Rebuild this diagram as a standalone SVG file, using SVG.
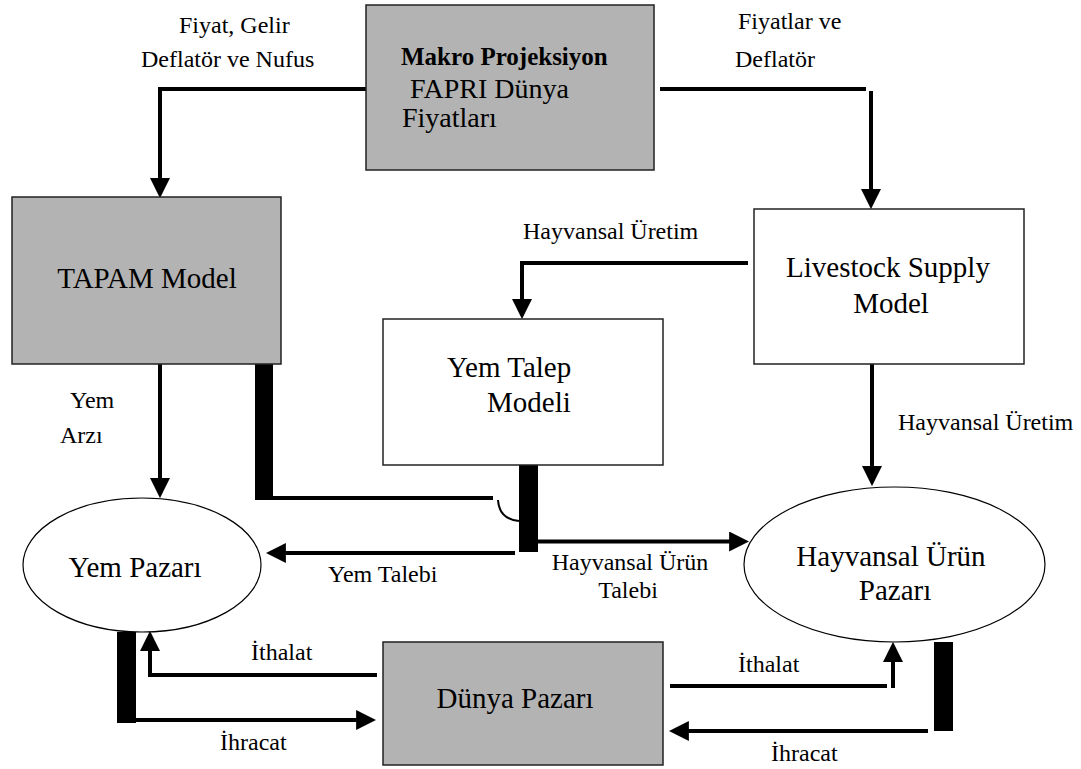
<svg xmlns="http://www.w3.org/2000/svg" width="1081" height="769" viewBox="0 0 1081 769">
<style>
.box{stroke:#222;stroke-width:1.5}
.gray{fill:#b3b3b3}
.white{fill:#fff}
.ell{fill:#fff;stroke:#000;stroke-width:1.2}
.t{font-family:"Liberation Serif","Times New Roman",serif;fill:#000}
.node{font-size:29px}
.lbl{font-size:24px}
.c{text-anchor:middle}
.ln{fill:none;stroke:#000;stroke-width:4;stroke-linejoin:miter}
.arr{fill:none;stroke:#000;stroke-width:4;marker-end:url(#ah)}
.bar{fill:#000}
</style>
<defs>
<marker id="ah" markerUnits="userSpaceOnUse" markerWidth="20" markerHeight="20" viewBox="0 0 18 18" refX="8" refY="9" orient="auto">
<path d="M0,0 L18,9 L0,18 z" fill="#000"/>
</marker>
</defs>
<rect width="1081" height="769" fill="#fff"/>

<g id="connectors">
<path class="arr" d="M375 89 H160 V187"/>
<path class="ln" d="M660 89 H866"/>
<path class="arr" d="M871 91 V198"/>
<path class="arr" d="M748 263 H522 V308"/>
<path class="arr" d="M872 364 V475"/>
<path class="arr" d="M160 364 V487"/>
<rect class="bar" x="255" y="364" width="18" height="136"/>
<path class="ln" d="M255 498 H493"/>
<path d="M498 500 Q499 519 519 521" fill="none" stroke="#000" stroke-width="2"/>
<rect class="bar" x="519" y="464" width="19" height="88"/>
<path class="arr" d="M538 541.5 H738"/>
<path class="arr" d="M515 553 H277"/>
<rect class="bar" x="117" y="632" width="19" height="91"/>
<path class="arr" d="M117 720 H365"/>
<path class="arr" d="M377 675 H150 V642"/>
<path class="ln" d="M670 686 H887"/>
<path class="arr" d="M893 688 V653"/>
<rect class="bar" x="934" y="642" width="19" height="89"/>
<path class="arr" d="M928 731 H680"/>
</g>

<g id="labels">
<text class="t lbl" x="179" y="33">Fiyat, Gelir</text>
<text class="t lbl" x="141" y="67">Deflatör ve Nufus</text>
<text class="t lbl" x="738" y="29">Fiyatlar ve</text>
<text class="t lbl" x="735" y="67">Deflatör</text>
<text class="t lbl" x="523" y="239">Hayvansal Üretim</text>
<text class="t lbl" x="898" y="430">Hayvansal Üretim</text>
<text class="t lbl" x="70" y="408">Yem</text>
<text class="t lbl" x="60" y="443">Arzı</text>
<text class="t lbl" x="328" y="582">Yem Talebi</text>
<text class="t lbl c" x="630" y="570">Hayvansal Ürün</text>
<text class="t lbl c" x="628" y="598">Talebi</text>
<text class="t lbl" x="251" y="660">İthalat</text>
<text class="t lbl" x="220" y="750">İhracat</text>
<text class="t lbl" x="738" y="672">İthalat</text>
<text class="t lbl" x="771" y="761">İhracat</text>
</g>

<g id="makro">
<rect class="box gray" x="366" y="5" width="288" height="165"/>
<text class="t" x="401" y="65" font-size="25" font-weight="bold">Makro Projeksiyon</text>
<text class="t" x="410" y="98" font-size="28">FAPRI Dünya</text>
<text class="t" x="402" y="127" font-size="28">Fiyatları</text>
</g>

<g id="tapam">
<rect class="box gray" x="12" y="197" width="269" height="167"/>
<text class="t node c" x="147" y="288">TAPAM Model</text>
</g>

<g id="livestock">
<rect class="box white" x="754" y="209" width="270" height="155"/>
<text class="t node c" x="888" y="277">Livestock Supply</text>
<text class="t node c" x="891" y="313">Model</text>
</g>

<g id="yemtalep">
<rect class="box white" x="383" y="319" width="280" height="146"/>
<text class="t node" x="447" y="377">Yem Talep</text>
<text class="t node" x="487" y="412">Modeli</text>
</g>

<g id="yempazari">
<ellipse class="ell" cx="142" cy="565" rx="119" ry="67"/>
<text class="t node c" x="135" y="577">Yem Pazarı</text>
</g>

<g id="hayvansalpazar">
<ellipse class="ell" cx="894.5" cy="564.5" rx="150.5" ry="77.5"/>
<text class="t node c" x="891" y="566">Hayvansal Ürün</text>
<text class="t node c" x="895" y="600">Pazarı</text>
</g>

<g id="dunya">
<rect class="box gray" x="383" y="642" width="280" height="123"/>
<text class="t node c" x="515" y="708">Dünya Pazarı</text>
</g>
</svg>
